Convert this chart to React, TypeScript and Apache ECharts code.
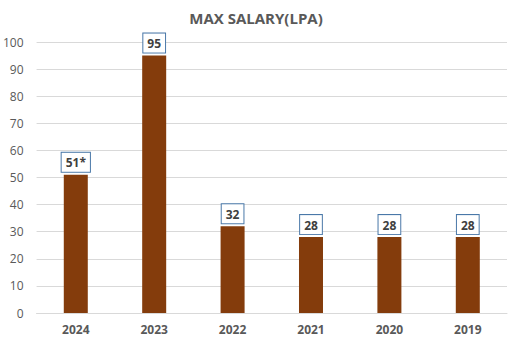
import React, { useEffect, useRef } from "react";
import * as echarts from "echarts";

const categories = ["2024", "2023", "2022", "2021", "2020", "2019"];
const values = [51, 95, 32, 28, 28, 28];
const labelTexts = ["51*", "95", "32", "28", "28", "28"];
const yTicks = { min: 0, max: 100, interval: 10 };

export default function App() {
  const ref = useRef<HTMLDivElement>(null);
  useEffect(() => {
    if (!ref.current) return;
    const chart = echarts.init(ref.current, null, { renderer: "svg" });
    chart.setOption({
      animation: false,
      backgroundColor: "#ffffff",
      title: {
        text: "MAX SALARY(LPA)",
        left: "center",
        top: 5,
        textStyle: { fontFamily: "Open Sans", fontSize: 15, fontWeight: "bold", color: "#595959" },
      },
      grid: { left: 35, right: 5, top: 42, bottom: 27, containLabel: false },
      xAxis: {
        type: "category",
        data: categories,
        axisLine: { lineStyle: { color: "#d9d9d9" } },
        axisTick: { show: false },
        axisLabel: { color: "#595959", fontFamily: "Open Sans", fontSize: 12, fontWeight: "bold", margin: 10 },
      },
      yAxis: {
        type: "value",
        min: yTicks.min,
        max: yTicks.max,
        interval: yTicks.interval,
        axisLine: { show: false },
        axisTick: { show: false },
        splitLine: { lineStyle: { color: "#d9d9d9" } },
        axisLabel: { color: "#595959", fontFamily: "Open Sans", fontSize: 12, margin: 13 },
      },
      series: [
        {
          type: "bar",
          data: values.map((v, i) => ({ value: v, label: { formatter: labelTexts[i] } })),
          barWidth: 24,
          itemStyle: { color: "#843C0C" },
          label: {
            show: true,
            position: "top",
            distance: 3,
            color: "#404040",
            fontFamily: "Open Sans",
            fontSize: 12,
            fontWeight: "bold",
            backgroundColor: "#ffffff",
            borderColor: "#4a78a8",
            borderWidth: 1,
            padding: [4, 4, 3, 4],
          },
        },
      ],
    });
    return () => chart.dispose();
  }, []);
  return <div ref={ref} style={{ position: "absolute", left: 0, top: 0, width: 512, height: 340 }} />;
}
